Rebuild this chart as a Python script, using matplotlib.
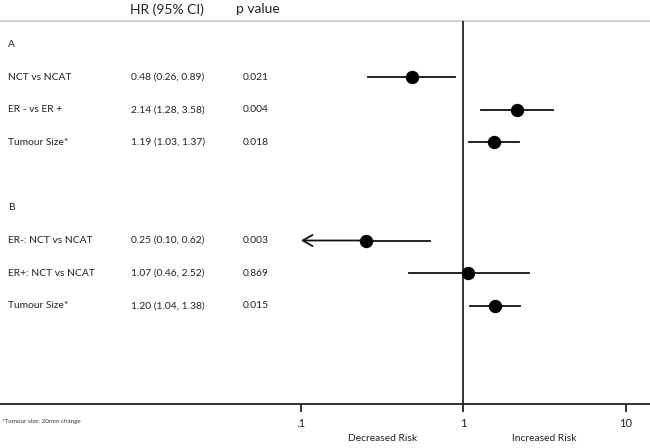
import matplotlib
matplotlib.use("Agg")
import matplotlib.pyplot as plt
import numpy as np

plt.rcParams['font.family'] = ['Lato', 'DejaVu Sans']

# ---- data ----
sections = ["A", "B"]
labels = ["NCT vs NCAT", "ER - vs ER +", "Tumour Size*",
          "ER-: NCT vs NCAT", "ER+: NCT vs NCAT", "Tumour Size*"]
hr_text = ["0.48 (0.26, 0.89)", "2.14 (1.28, 3.58)", "1.19 (1.03, 1.37)",
           "0.25 (0.10, 0.62)", "1.07 (0.46, 2.52)", "1.20 (1.04, 1.38)"]
p_text = ["0.021", "0.004", "0.018", "0.003", "0.869", "0.015"]
# plotted estimates (as drawn in the figure)
est = [0.48, 2.14, 1.54, 0.25, 1.07, 1.56]
lo = [0.26, 1.28, 1.08, 0.10, 0.46, 1.10]
hi = [0.89, 3.58, 2.20, 0.62, 2.52, 2.24]
arrow_left = [False, False, False, True, False, False]
row_pos = [1, 2, 3, 6, 7, 8]
section_pos = [0, 5]
xticks = [0.1, 1, 10]
xticklabels = [".1", "1", "10"]
header = ["HR (95% CI)", "p value"]
footnote = "*Tumour size: 20mm change"
side_labels = ["Decreased Risk", "Increased Risk"]

W, H = 650, 448
fig = plt.figure(figsize=(W / 100, H / 100), dpi=100)
ax_bottom = (H - 404) / H
ax = fig.add_axes([0, ax_bottom, 1, 1 - ax_bottom])
ax.set_xscale('log')
ax.set_xlim(10 ** -2.852, 10 ** 1.148)
ax.set_ylim(11.0, -1.355)

for s in ['top', 'right', 'left']:
    ax.spines[s].set_visible(False)
ax.spines['bottom'].set_linewidth(1.3)
ax.spines['bottom'].set_color('#222222')
ax.set_yticks([])
ax.set_xticks(xticks)
ax.set_xticklabels(xticklabels)
ax.xaxis.set_minor_locator(matplotlib.ticker.NullLocator())
ax.tick_params(axis='x', direction='out', length=6, width=1.3, color='#222222',
               labelsize=8, pad=4, labelcolor='#222222')

# header separator and reference line
ax.axhline(-0.71, color='#c8c8c8', lw=1.2)
ax.vlines(1, -0.71, 11.0, color='#333333', lw=1.4)

for i in range(len(est)):
    y = row_pos[i]
    if arrow_left[i]:
        ax.plot([est[i], hi[i]], [y, y], color='#111111', lw=1.3)
        ax.annotate('', xy=(lo[i], y), xytext=(est[i], y),
                    arrowprops=dict(arrowstyle='->,head_length=0.7,head_width=0.4',
                                    lw=1.3, color='#111111', shrinkA=0, shrinkB=0))
    else:
        ax.plot([lo[i], hi[i]], [y, y], color='#111111', lw=1.3)
    ax.plot(est[i], y, 'o', color='black', ms=8.6)

tr = ax.get_yaxis_transform()
fs = 7.4
tc = '#222222'
for i in range(len(labels)):
    y = row_pos[i]
    ax.text(8 / W, y, labels[i], transform=tr, fontsize=fs, va='center', ha='left', color=tc)
    ax.text(131 / W, y, hr_text[i], transform=tr, fontsize=fs, va='center', ha='left', color=tc)
    ax.text(243 / W, y, p_text[i], transform=tr, fontsize=fs, va='center', ha='left', color=tc)
for s, y in zip(sections, section_pos):
    ax.text(8 / W, y, s, transform=tr, fontsize=fs, va='center', ha='left', color=tc)

ax.text(167 / W, -1.07, header[0], transform=tr, fontsize=10, va='center', ha='center', color=tc)
ax.text(258 / W, -1.07, header[1], transform=tr, fontsize=10, va='center', ha='center', color=tc)

fig.text(2 / W, 1 - 421 / H, footnote, fontsize=4.5, va='center', ha='left', color='#333333')
xtr = ax.get_xaxis_transform()
ax.text(10 ** -0.5, -(438 - 404) / (404), side_labels[0], transform=xtr, fontsize=7.4,
        ha='center', va='center', color=tc, clip_on=False)
ax.text(10 ** 0.5, -(438 - 404) / (404), side_labels[1], transform=xtr, fontsize=7.4,
        ha='center', va='center', color=tc, clip_on=False)

fig.savefig("out.png", dpi=100)
